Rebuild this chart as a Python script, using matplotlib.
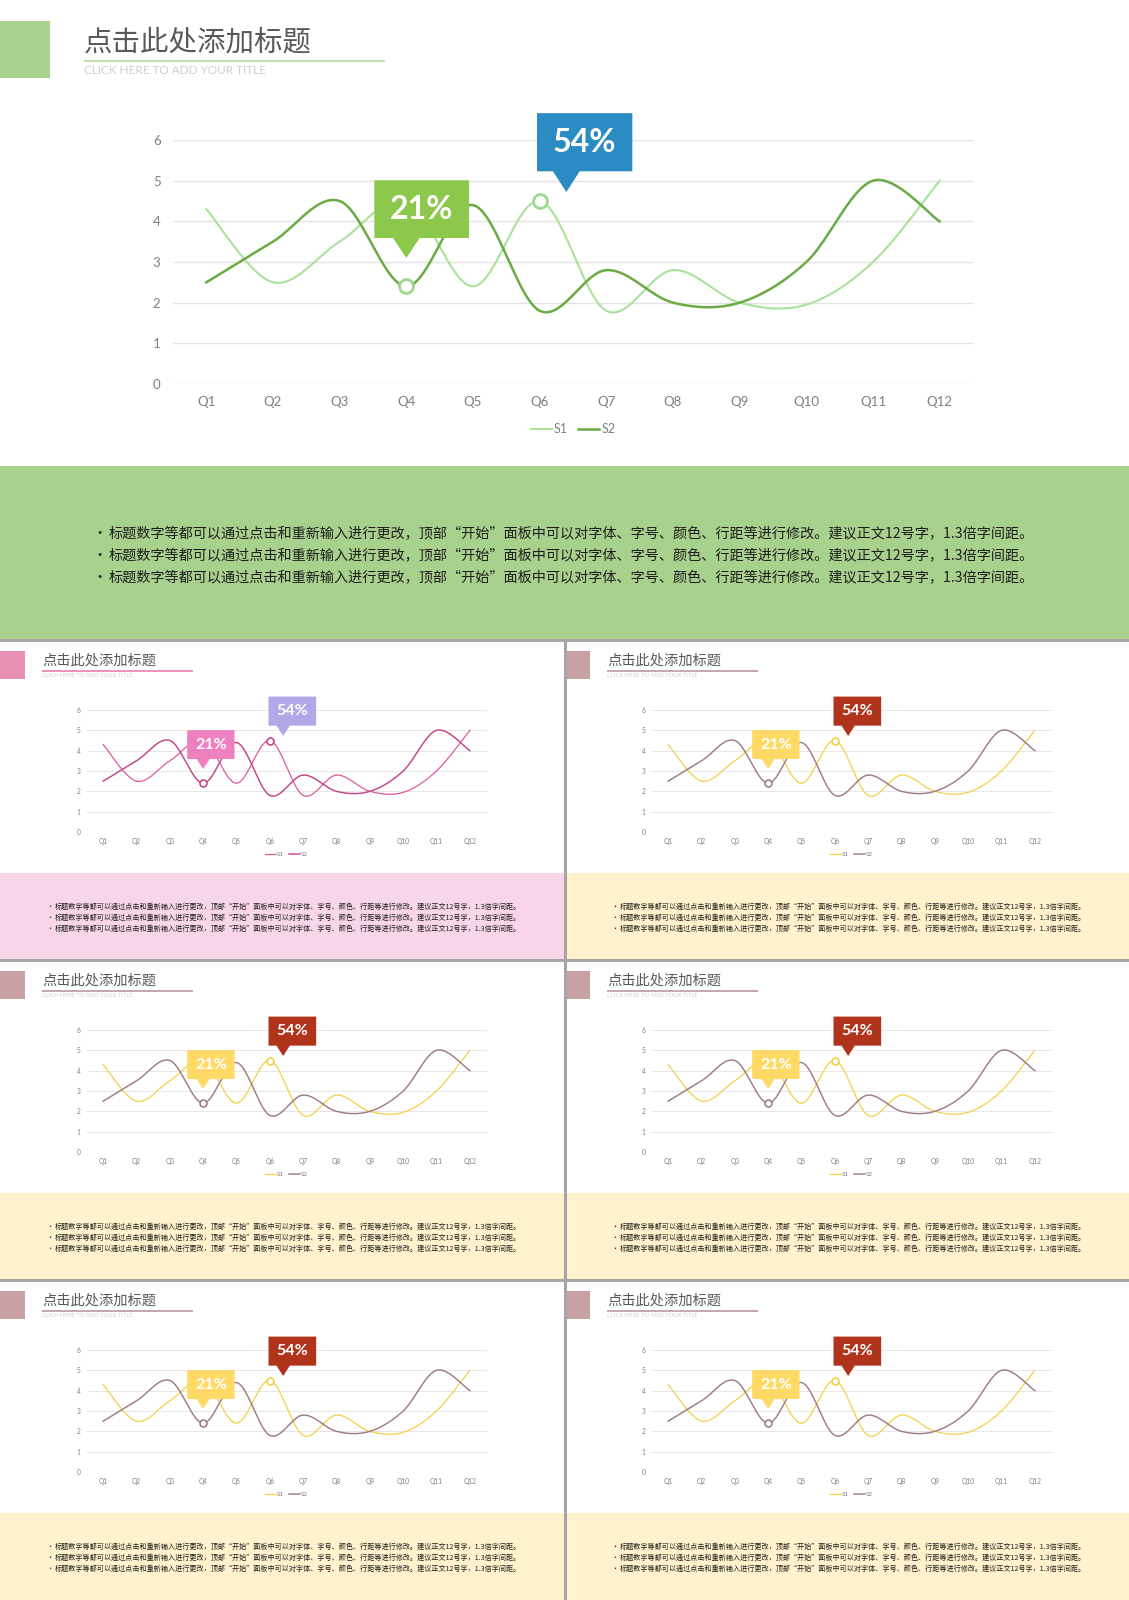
import matplotlib
matplotlib.use('Agg')
import matplotlib.pyplot as plt
from matplotlib.patches import Rectangle, Polygon
import numpy as np

plt.rcParams['font.family'] = ['Noto Sans CJK SC', 'DejaVu Sans']

# ---- data ----
quarters = ['Q1', 'Q2', 'Q3', 'Q4', 'Q5', 'Q6', 'Q7', 'Q8', 'Q9', 'Q10', 'Q11', 'Q12']
s1 = [4.3, 2.5, 3.5, 4.5, 2.4, 4.5, 1.8, 2.8, 2.0, 1.95, 3.0, 5.0]
s2 = [2.5, 3.5, 4.5, 2.4, 4.4, 1.8, 2.8, 2.0, 2.0, 3.0, 5.0, 4.0]
y_ticks = [0, 1, 2, 3, 4, 5, 6]
series_names = ['S1', 'S2']
callout_labels = ['21%', '54%']
callout_index = [3, 5]          # Q4 on S2, Q6 on S1
title_cn = '点击此处添加标题'
title_en = 'CLICK HERE TO ADD YOUR TITLE'
bullet_text = ('标题数字等都可以通过点击和重新输入进行更改，顶部“开始”面板中可以对字体、字号、'
               '颜色、行距等进行修改。建议正文12号字，1.3倍字间距。')

W, H = 1129, 1600
LATIN = ['Lato', 'DejaVu Sans']

themes = {
    'green': dict(accent='#a9d18e', uline='#c5e0b4', c1='#a9e29b', c2='#6aab45',
                  ring1='#9cd98c', ring2='#9cd98c', box1='#8cc84b', box2='#2b8bc3',
                  band='#a9d18e'),
    'pink': dict(accent='#e891b5', uline='#e07aa8', c1='#dd5aa2', c2='#c24a8c',
                 ring1='#c24a8c', ring2='#c24a8c', box1='#ef80c0', box2='#b4a7e8',
                 band='#f8d5e8'),
    'yellow': dict(accent='#c9a0a4', uline='#b39399', c1='#f3cf4a', c2='#a07f86',
                   ring1='#f3cf4a', ring2='#a07f86', box1='#ffd966', box2='#b0341c',
                   band='#fff2cc'),
}


def smooth(y, n=24):
    """Catmull-Rom curve through the points (like the office 'smooth line')."""
    pts = np.column_stack([np.arange(len(y)), y]).astype(float)
    pts = np.vstack([pts[0], pts, pts[-1]])
    out = []
    t = np.linspace(0, 1, n)[:, None]
    for i in range(1, len(pts) - 2):
        p0, p1, p2, p3 = pts[i - 1], pts[i], pts[i + 1], pts[i + 2]
        seg = 0.5 * (2 * p1 + (-p0 + p2) * t + (2 * p0 - 5 * p1 + 4 * p2 - p3) * t ** 2
                     + (-p0 + 3 * p1 - 3 * p2 + p3) * t ** 3)
        out.append(seg)
    out = np.vstack(out)
    return out[:, 0], out[:, 1]


def callout(ax, box, tip, text, color, fs):
    x0, x1, y0, y1 = box
    tx, ty = tip
    hw = 0.2
    poly = Polygon([(x0, y1), (x1, y1), (x1, y0), (tx + hw, y0), (tx, ty),
                    (tx - hw, y0), (x0, y0)], closed=True, facecolor=color,
                   edgecolor='none', clip_on=False, zorder=6)
    ax.add_patch(poly)
    ax.text((x0 + x1) / 2, (y0 + y1) / 2, text, color='white', fontsize=fs,
            fontweight='bold', family=LATIN, ha='center', va='center',
            zorder=7, clip_on=False)


def draw_slide(fig, bg, ox, oy, s, width, th):
    # title block
    bg.add_patch(Rectangle((ox, oy + 21 * s), 50 * s, 57 * s, color=th['accent'], lw=0))
    bg.text(ox + 84 * s, oy + 42 * s, title_cn, fontsize=20.5 * s, color='#595959',
            va='center', ha='left')
    bg.plot([ox + 84 * s, ox + 385 * s], [oy + 61 * s] * 2, color=th['uline'],
            lw=1.6 * max(s, 0.7), solid_capstyle='butt')
    bg.text(ox + 84 * s, oy + 71 * s, title_en, fontsize=8.5 * s, color='#cfcfcf',
            family=LATIN, va='center', ha='left')

    # text band
    bg.add_patch(Rectangle((ox, oy + 466 * s), width, 174 * s, color=th['band'], lw=0))
    for yy in [534, 556, 578]:
        bg.text(ox + 92 * s, oy + yy * s, '•', fontsize=10.2 * s, color='#1e1e1e',
                va='center', ha='left')
        bg.text(ox + 109 * s, oy + yy * s, bullet_text, fontsize=10.2 * s,
                color='#1e1e1e', va='center', ha='left')

    # chart
    left, right = ox + 173 * s, ox + 973 * s
    top, bottom = oy + 140 * s, oy + 384 * s
    ax = fig.add_axes([left / W, 1 - bottom / H, (right - left) / W, (bottom - top) / H])
    ax.set_facecolor('none')
    ax.set_zorder(2)
    lw_scale = 1 if s == 1 else 0.6
    xs, ys = smooth(s1)
    ax.plot(xs, ys, color=th['c1'], lw=1.5 * lw_scale, label=series_names[0], zorder=3)
    xs, ys = smooth(s2)
    ax.plot(xs, ys, color=th['c2'], lw=1.8 * lw_scale, label=series_names[1], zorder=4)

    ms = 10 * s
    ax.plot(callout_index[0], s2[callout_index[0]], 'o', ms=ms, mfc='white',
            mec=th['ring2'], mew=2 * lw_scale, zorder=5)
    ax.plot(callout_index[1], s1[callout_index[1]], 'o', ms=ms, mfc='white',
            mec=th['ring1'], mew=2 * lw_scale, zorder=5)

    callout(ax, (2.52, 3.94, 3.59, 5.01), (3.0, 3.1), callout_labels[0], th['box1'], 23 * s)
    callout(ax, (4.96, 6.39, 5.23, 6.66), (5.4, 4.72), callout_labels[1], th['box2'], 23 * s)

    ax.set_xlim(-0.5, 11.5)
    ax.set_ylim(0, 6)
    ax.set_xticks(range(len(quarters)))
    ax.set_xticklabels(quarters, family=LATIN)
    ax.set_yticks(y_ticks)
    ax.set_yticklabels([str(v) for v in y_ticks], family=LATIN)
    ax.tick_params(length=0, labelsize=9.5 * s, colors='#7f7f7f')
    ax.tick_params(axis='x', pad=9 * s)
    ax.tick_params(axis='y', pad=9 * s)
    ax.grid(axis='y', color='#e3e3e3', lw=1 * lw_scale)
    ax.set_axisbelow(True)
    for sp in ax.spines.values():
        sp.set_visible(False)
    ax.legend(loc='center', bbox_to_anchor=(0.5, -0.185), ncol=2, frameon=False,
              handlelength=1.7, handletextpad=0.15, columnspacing=0.8,
              labelcolor='#7f7f7f', prop={'family': LATIN, 'size': 9 * s})
    return ax


fig = plt.figure(figsize=(W / 100, H / 100), dpi=100)
fig.patch.set_facecolor('white')
bg = fig.add_axes([0, 0, 1, 1])
bg.set_xlim(0, W)
bg.set_ylim(H, 0)
bg.axis('off')
bg.set_zorder(0)

# main slide
draw_slide(fig, bg, 0, 0, 1.0, W, themes['green'])

# thumbnails
thumbs = [('pink', 0, 640), ('yellow', 565, 640), ('yellow', 0, 960),
          ('yellow', 565, 960), ('yellow', 0, 1280), ('yellow', 565, 1280)]
for name, ox, oy in thumbs:
    draw_slide(fig, bg, ox, oy, 0.5, 564, themes[name])

# separators between the thumbnails
for yy in [640, 960, 1280]:
    bg.plot([0, W], [yy, yy], color='#a6a6a6', lw=2.2, zorder=10)
bg.plot([564.5, 564.5], [640, H], color='#a6a6a6', lw=2.2, zorder=10)

fig.savefig('out.png', dpi=100)
